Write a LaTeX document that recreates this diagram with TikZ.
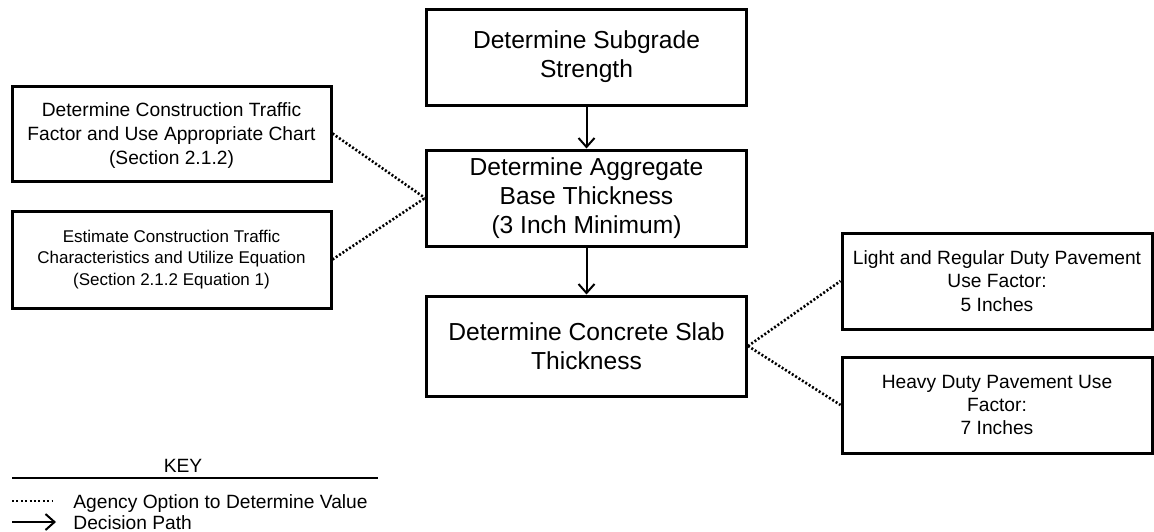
\documentclass[tikz,border=0pt]{standalone}
\usepackage{fontspec}
\setmainfont{Liberation Sans}
\usetikzlibrary{arrows.meta}
\begin{document}
\begin{tikzpicture}[x=0.5pt,y=-0.5pt,
  box/.style={draw, line width=1.5pt, align=center, inner sep=0pt},
  bigtxt/.style={font=\fontsize{12.3}{14.5}\selectfont},
  midtxt/.style={font=\fontsize{9.6}{12}\selectfont},
  smalltxt/.style={font=\fontsize{8.5}{10.8}\selectfont},
  flow/.style={line width=1pt, -{Straight Barb[length=4.5pt,width=8pt,line width=1pt]}},
  option/.style={line width=1.3pt, dash pattern=on 1pt off 1pt},
  keyopt/.style={line width=1.1pt, dash pattern=on 1pt off 1.2pt}
]
\useasboundingbox (0,0) rectangle (1154,531);

% centre column
\node[box, bigtxt, minimum width=160pt, minimum height=48pt] (sub) at (586.5,57)
  {Determine Subgrade\\Strength};
\node[box, bigtxt, minimum width=160pt, minimum height=48pt] (agg) at (586.5,198)
  {Determine Aggregate\\Base Thickness\\(3 Inch Minimum)};
\node[box, bigtxt, minimum width=160pt, minimum height=50pt] (slab) at (586.5,346)
  {Determine Concrete Slab\\Thickness};

% left boxes
\node[box, midtxt, minimum width=159.5pt, minimum height=47.5pt, text depth=-2.5pt] (trafA) at (171.5,133.5)
  {Determine Construction Traffic\\Factor and Use Appropriate Chart\\(Section 2.1.2)};
\node[box, smalltxt, minimum width=159.5pt, minimum height=48.5pt] (trafB) at (171.5,259.5)
  {Estimate Construction Traffic\\Characteristics and Utilize Equation\\(Section 2.1.2 Equation 1)};

% right boxes
\node[box, font=\fontsize{9.6}{11.7}\selectfont, minimum width=155pt, minimum height=48pt] (light) at (997,281)
  {Light and Regular Duty Pavement\\Use Factor:\\5 Inches};
\node[box, font=\fontsize{9.6}{11.7}\selectfont, minimum width=155pt, minimum height=48pt] (heavy) at (997,405)
  {Heavy Duty Pavement Use\\Factor:\\7 Inches};

% connectors
\draw[flow] (sub.south) -- (agg.north);
\draw[flow] (agg.south) -- (slab.north);
\draw[option] (trafA.east) -- (agg.west);
\draw[option] (trafB.east) -- (agg.west);
\draw[option] (slab.east) -- (light.west);
\draw[option] (slab.east) -- (heavy.west);

% key
\node[midtxt, inner sep=0pt, anchor=base] (key) at (183,472) {KEY};
\coordinate (kl) at (12,478);
\coordinate (kr) at (378,478);
\draw[line width=0.6pt] (kl) -- (kr);
\coordinate (d1) at (12,501);
\coordinate (d2) at (53,501);
\draw[keyopt] (d1) -- (d2);
\node[midtxt, inner sep=0pt, anchor=base west] (kdot) at (73,508) {Agency Option to Determine Value};
\coordinate (a1) at (12,522);
\coordinate (a2) at (56,522);
\draw[flow] (a1) -- (a2);
\node[midtxt, inner sep=0pt, anchor=base west] (karr) at (73,529) {Decision Path};
\end{tikzpicture}
\end{document}
